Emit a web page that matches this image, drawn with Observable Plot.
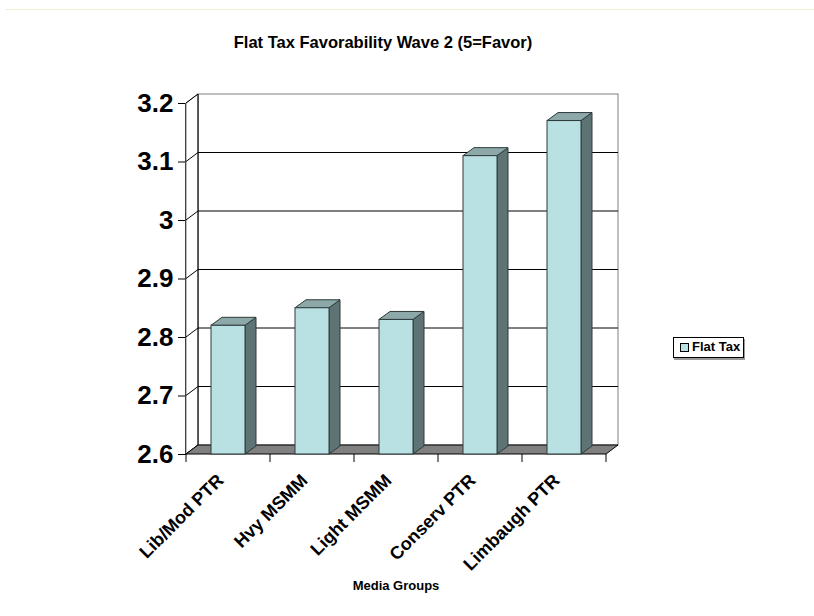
<!DOCTYPE html>
<html>
<head>
<meta charset="utf-8">
<script src="https://cdn.jsdelivr.net/npm/d3@7"></script>
<script src="https://cdn.jsdelivr.net/npm/@observablehq/plot@0.6"></script>
<style>
  body { margin: 0; background: #fff; font-family: Arial, "Liberation Sans", sans-serif; }
  #wrap { position: relative; width: 814px; height: 616px; overflow: hidden; }
  #topline { position: absolute; left: 5px; top: 9px; width: 809px; height: 0; border-top: 1px solid #f1f1d2; }
  #title { position: absolute; left: 183px; width: 400px; top: 33px; text-align: center; font-weight: bold; font-size: 16.5px; color: #000; }
  #xtitle { position: absolute; left: 296px; width: 200px; top: 578px; text-align: center; font-weight: bold; font-size: 13px; color: #000; }
  #legend { position: absolute; left: 673px; top: 337px; width: 69px; height: 19px; border: 1px solid #000; background: #fff; box-shadow: 1px 2px 0 #9a9a9a; }
  #legend .sw { position: absolute; left: 6px; top: 5px; width: 7px; height: 7px; border: 1px solid #000; }
  #legend .lb { position: absolute; left: 18px; top: 1px; font-weight: bold; font-size: 13px; color: #000; white-space: nowrap; }
  svg g[aria-label^="y-axis"] text { font-size: 26px; font-weight: bold; }
</style>
</head>
<body>
<div id="wrap"></div>
<script>
// ---- data ----
const categories = ["Lib/Mod PTR", "Hvy MSMM", "Light MSMM", "Conserv PTR", "Limbaugh PTR"];
const values = [2.82, 2.85, 2.83, 3.11, 3.17];
const yTicks = [2.6, 2.7, 2.8, 2.9, 3.0, 3.1, 3.2];
const seriesName = "Flat Tax";
const chartTitle = "Flat Tax Favorability Wave 2 (5=Favor)";
const xAxisTitle = "Media Groups";

const data = categories.map((c, i) => ({cat: c, v: values[i]}));
const yMin = yTicks[0], yMax = yTicks[yTicks.length - 1];

// ---- styling ----
const frontFill = "#b9e0e3", sideFill = "#5e7373", topFill = "#8da8a9", edge = "#2f3b3b";
const wallDX = 12, wallDY = -9;   // depth of the 3D box (px)
const barDX = 11, barDY = -8;     // depth of each column (px)
const barInset = 25;

const ns = "http://www.w3.org/2000/svg";
function el(tag, attrs) {
  const e = document.createElementNS(ns, tag);
  for (const k in attrs) e.setAttribute(k, attrs[k]);
  return e;
}
function poly(pts, fill, stroke, sw = 1) {
  return el("polygon", {points: pts.map(p => p.join(",")).join(" "), fill, stroke, "stroke-width": sw, "stroke-linejoin": "miter"});
}
function bandInfo(x) {
  return x.bandwidth ? x.bandwidth() : (x(categories[1]) - x(categories[0]));
}

// Back wall, side wall, grid lines and floor
function boxMark(index, scales) {
  const {x, y} = scales;
  const bw = bandInfo(x);
  const x0 = x(categories[0]), x1 = x(categories[categories.length - 1]) + bw;
  const yb = y(yMin), yt = y(yMax);
  const g = el("g", {"aria-label": "3d-box"});
  g.appendChild(el("rect", {x: x0 + wallDX, y: yt + wallDY, width: x1 - x0, height: yb - yt, fill: "#fff", stroke: "#808080"}));
  g.appendChild(poly([[x0, yt], [x0 + wallDX, yt + wallDY], [x0 + wallDX, yb + wallDY], [x0, yb]], "#fff", "#808080"));
  for (const t of yTicks) {
    const yy = y(t);
    if (t !== yMin && t !== yMax) {
      g.appendChild(el("line", {x1: x0 + wallDX, x2: x1 + wallDX, y1: yy + wallDY, y2: yy + wallDY, stroke: "#000"}));
    }
    g.appendChild(el("line", {x1: x0, x2: x0 + wallDX, y1: yy, y2: yy + wallDY, stroke: "#000"}));
  }
  g.appendChild(el("line", {x1: x0 + wallDX, x2: x0 + wallDX, y1: yt + wallDY, y2: yb + wallDY, stroke: "#000"}));
  g.appendChild(poly([[x0, yb], [x1, yb], [x1 + wallDX, yb + wallDY], [x0 + wallDX, yb + wallDY]], "#808080", "#000"));
  for (let i = 0; i <= categories.length; i++) {
    const xx = x0 + i * bw;
    g.appendChild(el("line", {x1: xx, x2: xx, y1: yb, y2: yb + 8, stroke: "#000"}));
  }
  return g;
}

// Column side and top faces
function columnMark(index, scales) {
  const {x, y} = scales;
  const bw = bandInfo(x);
  const g = el("g", {"aria-label": "3d-columns"});
  for (const d of data) {
    const xl = x(d.cat) + barInset, xr = x(d.cat) + bw - barInset;
    const yv = y(d.v), yb = y(yMin);
    g.appendChild(poly([[xr, yv], [xr + barDX, yv + barDY], [xr + barDX, yb + barDY], [xr, yb]], sideFill, edge));
    g.appendChild(poly([[xl, yv], [xr, yv], [xr + barDX, yv + barDY], [xl + barDX, yv + barDY]], topFill, edge));
  }
  return g;
}

const chart = Plot.plot({
  width: 814,
  height: 616,
  marginLeft: 185,
  marginRight: 207,
  marginTop: 103,
  marginBottom: 162,
  style: {fontFamily: 'Arial, "Liberation Sans", sans-serif', color: "#000", background: "transparent"},
  x: {domain: categories, padding: 0, axis: null},
  y: {domain: [yMin, yMax], ticks: yTicks, tickFormat: d => String(+d.toFixed(1)), tickSize: 7, tickPadding: 5, line: true, label: null},
  marks: [
    boxMark,
    columnMark,
    Plot.barY(data, {x: "cat", y1: () => yMin, y2: "v", fill: frontFill, stroke: edge, strokeWidth: 1, insetLeft: barInset, insetRight: barInset}),
    Plot.text(data, {x: "cat", y: () => yMin, text: "cat", rotate: -45, textAnchor: "end", dx: -8, dy: 23, fontSize: 18, fontWeight: "bold", fill: "#000"})
  ]
});

const wrap = document.getElementById("wrap");
wrap.appendChild(chart);
chart.style.position = "absolute";
chart.style.left = "0px";
chart.style.top = "0px";

function addDiv(id, text) {
  const d = document.createElement("div");
  d.id = id;
  if (text != null) d.textContent = text;
  wrap.appendChild(d);
  return d;
}
addDiv("topline");
addDiv("title", chartTitle);
addDiv("xtitle", xAxisTitle);
const lg = addDiv("legend");
const sw = document.createElement("div"); sw.className = "sw"; sw.style.background = frontFill; lg.appendChild(sw);
const lb = document.createElement("div"); lb.className = "lb"; lb.textContent = seriesName; lg.appendChild(lb);
</script>
</body>
</html>
